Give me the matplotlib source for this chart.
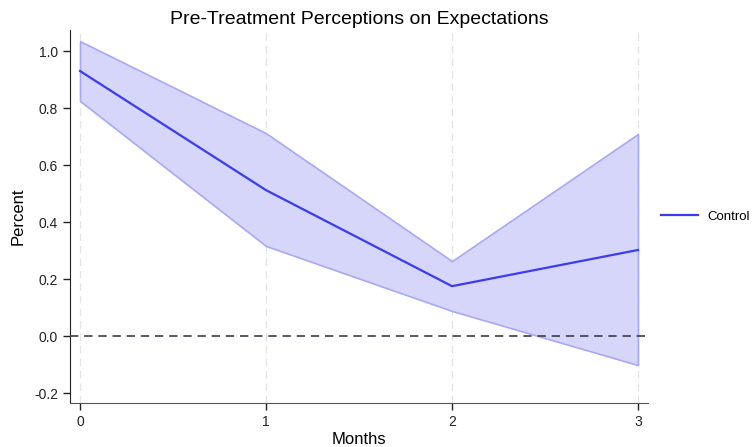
import matplotlib
matplotlib.use("Agg")
import matplotlib.pyplot as plt

plt.rcParams['font.family'] = ['Liberation Sans', 'DejaVu Sans']

# event-study estimates by month
months = [0, 1, 2, 3]
estimate = [0.930, 0.512, 0.175, 0.302]
ci_upper = [1.035, 0.712, 0.263, 0.709]
ci_lower = [0.825, 0.316, 0.088, -0.102]
yticks = [-0.2, 0.0, 0.2, 0.4, 0.6, 0.8, 1.0]

fig = plt.figure(figsize=(7.52, 4.47), dpi=100)
ax = fig.add_axes([70 / 752, 44 / 447, 578 / 752, 373 / 447])

ax.fill_between(months, ci_lower, ci_upper, facecolor='#d6d6fb',
                edgecolor='#a8a8f6', linewidth=1.2, zorder=2)
ax.plot(months, estimate, color='#3b3bf5', linewidth=1.6, label='Control', zorder=3)
ax.axhline(0, color='#3c3c46', linestyle=(0, (5, 3.5)), linewidth=1.2, zorder=4)

for m in months:
    ax.axvline(m, color='#e4e4e4', linestyle=(0, (6, 4)), linewidth=0.9, zorder=1)

ax.set_xlim(-0.054, 3.054)
ax.set_ylim(-0.235, 1.074)
ax.set_xticks(months)
ax.set_yticks(yticks)
ax.set_yticklabels([f'{v:.1f}' for v in yticks])

for side in ('top', 'right'):
    ax.spines[side].set_visible(False)
ax.spines['left'].set_color('#222222')
ax.spines['bottom'].set_color('#555555')
ax.tick_params(labelsize=10, length=5, width=1, colors='#222222')

ax.set_xlabel('Months', fontsize=12, labelpad=2)
ax.set_ylabel('Percent', fontsize=12, labelpad=6)
ax.set_title('Pre-Treatment Perceptions on Expectations', fontsize=14, pad=4)

ax.legend(loc='center left', bbox_to_anchor=(1.002, 0.5), frameon=False,
          fontsize=9.5, handlelength=2.8, handletextpad=0.7)

fig.savefig('out.png', dpi=100)
